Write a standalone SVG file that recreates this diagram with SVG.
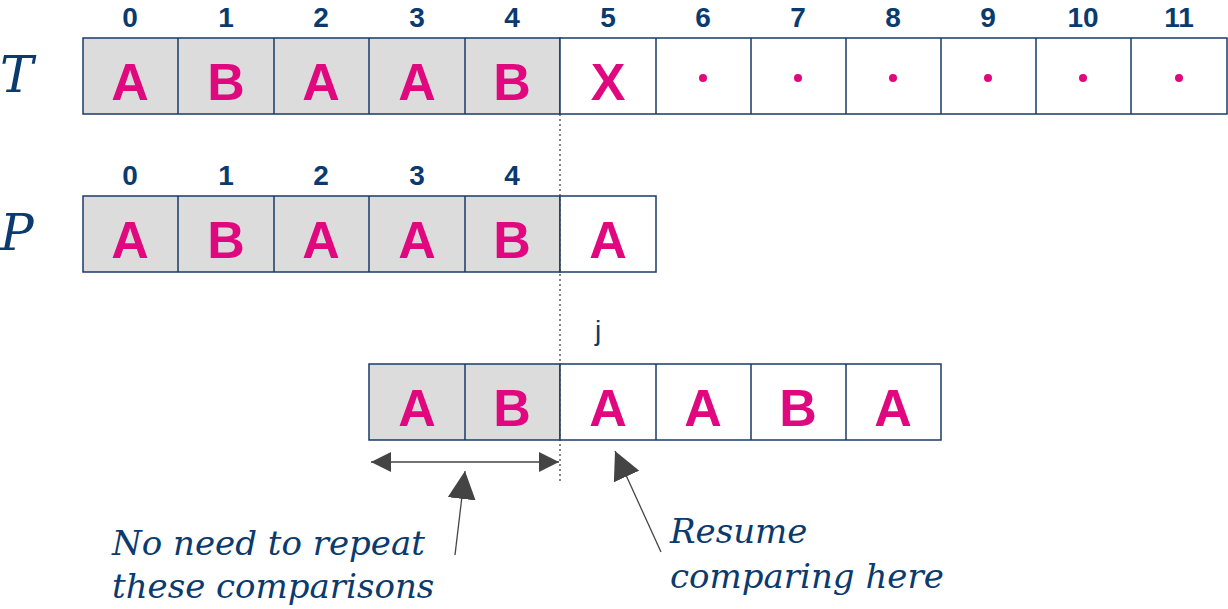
<svg xmlns="http://www.w3.org/2000/svg" width="1228" height="609" viewBox="0 0 1228 609">
<style>
.c{stroke:#1a3a66;stroke-width:1.5}
.g{fill:#dcdcdc}.w{fill:#fff}
.l{font-family:"Liberation Sans",Arial,sans-serif;font-weight:bold;font-size:52px;fill:#e0087f;text-anchor:middle}
.i{font-family:"Liberation Sans",Arial,sans-serif;font-weight:bold;font-size:28px;fill:#0a3a6e;text-anchor:middle}
.s{font-family:"DejaVu Serif","Liberation Serif",serif;font-style:italic;font-size:34px;fill:#0a3a6e}
.v{font-family:"DejaVu Serif","Liberation Serif",serif;font-style:italic;font-size:50px;fill:#0a3a6e}
</style>
<defs><marker id="a" viewBox="0 0 10 10" refX="10" refY="5" markerWidth="20" markerHeight="20" markerUnits="userSpaceOnUse" orient="auto-start-reverse"><path d="M0,0L10,5L0,10z" fill="#444"/></marker>
<marker id="b" viewBox="0 0 10 10" refX="10" refY="5" markerWidth="28" markerHeight="28" markerUnits="userSpaceOnUse" orient="auto"><path d="M0,0L10,5L0,10z" fill="#444"/></marker></defs>
<rect width="1228" height="609" fill="#fff"/>
<text class="v" x="0" y="92">T</text>
<text class="v" x="0" y="250">P</text>
<g id="T">
<g class="i"><text x="130" y="27">0</text><text x="226" y="27">1</text><text x="321" y="27">2</text><text x="417" y="27">3</text><text x="512" y="27">4</text><text x="608" y="27">5</text><text x="703" y="27">6</text><text x="798" y="27">7</text><text x="893" y="27">8</text><text x="988" y="27">9</text><text x="1083" y="27">10</text><text x="1179" y="27">11</text></g>
<rect class="c g" x="83" y="38" width="477" height="76"/>
<rect class="c w" x="560" y="38" width="667" height="76"/>
<path class="c" d="M178,38V114M274,38V114M369,38V114M465,38V114M656,38V114M751,38V114M846,38V114M941,38V114M1036,38V114M1131,38V114"/>
<g class="l"><text x="130" y="100">A</text><text x="226" y="100">B</text><text x="321" y="100">A</text><text x="417" y="100">A</text><text x="512" y="100">B</text><text x="608" y="100">X</text></g>
<g fill="#e0087f"><circle cx="703" cy="78" r="4"/><circle cx="798" cy="78" r="4"/><circle cx="893" cy="78" r="4"/><circle cx="988" cy="78" r="4"/><circle cx="1083" cy="78" r="4"/><circle cx="1179" cy="78" r="4"/></g>
</g>
<g id="P">
<g class="i"><text x="130" y="185">0</text><text x="226" y="185">1</text><text x="321" y="185">2</text><text x="417" y="185">3</text><text x="512" y="185">4</text></g>
<rect class="c g" x="83" y="196" width="477" height="76"/>
<rect class="c w" x="560" y="196" width="96" height="76"/>
<path class="c" d="M178,196V272M274,196V272M369,196V272M465,196V272"/>
<g class="l"><text x="130" y="258">A</text><text x="226" y="258">B</text><text x="321" y="258">A</text><text x="417" y="258">A</text><text x="512" y="258">B</text><text x="608" y="258">A</text></g>
</g>
<g id="shift">
<text x="598" y="340" font-family="Liberation Sans,sans-serif" font-size="28" fill="#0a3a6e" text-anchor="middle">j</text>
<rect class="c g" x="369" y="364" width="191" height="76"/>
<rect class="c w" x="560" y="364" width="381" height="76"/>
<path class="c" d="M465,364V440M656,364V440M751,364V440M846,364V440"/>
<g class="l"><text x="417" y="426">A</text><text x="512" y="426">B</text><text x="608" y="426">A</text><text x="703" y="426">A</text><text x="798" y="426">B</text><text x="893" y="426">A</text></g>
</g>
<g id="connectors" stroke="#444" stroke-width="1.3" fill="none">
<line x1="560" y1="114" x2="560" y2="482" stroke-dasharray="2,3"/>
<line x1="371" y1="462" x2="559" y2="462" marker-start="url(#a)" marker-end="url(#a)"/>
<line x1="455" y1="555" x2="465" y2="471" marker-end="url(#b)"/>
<line x1="661" y1="552" x2="615" y2="451" marker-end="url(#b)"/>
</g>
<text class="s" x="112" y="555">No need to repeat</text>
<text class="s" x="112" y="598">these comparisons</text>
<text class="s" x="670" y="543">Resume</text>
<text class="s" x="670" y="588">comparing here</text>
</svg>
